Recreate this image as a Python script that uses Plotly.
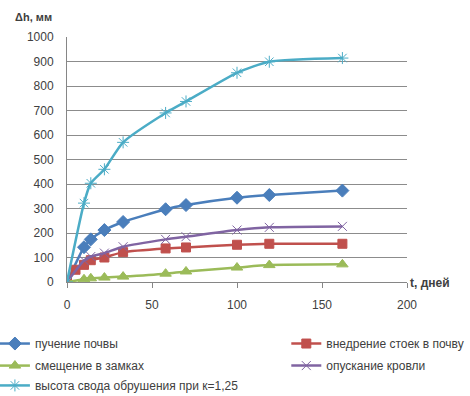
import plotly.graph_objects as go

# data
t_common = [0, 10, 14, 22, 33, 58, 70, 100, 119, 162]
t_red = [0, 5, 10, 14, 22, 33, 58, 70, 100, 119, 162]

puchenie = [0, 142, 174, 212, 245, 297, 314, 344, 355, 373]
vnedrenie = [0, 50, 70, 89, 100, 122, 137, 141, 152, 156, 156]
smeshchenie = [0, 11, 15, 18, 22, 34, 43, 59, 69, 72]
opuskanie = [0, 88, 104, 118, 144, 174, 185, 212, 223, 227]
vysota = [0, 322, 403, 460, 570, 690, 737, 854, 899, 914]

names = ["пучение почвы", "внедрение стоек в почву", "смещение в замках",
         "опускание кровли", "высота свода обрушения при к=1,25"]

x_ticks = [0, 50, 100, 150, 200]
y_ticks = [0, 100, 200, 300, 400, 500, 600, 700, 800, 900, 1000]

FONT = "Liberation Sans"
TXT = "#404040"

fig = go.Figure()

def add(x, y, name, color, symbol, size, legend, lw=2.5):
    fig.add_trace(go.Scatter(
        x=x, y=y, name=name, mode="lines+markers",
        line=dict(color=color, width=lw, shape="spline", smoothing=0.6),
        marker=dict(symbol=symbol, size=size, color=color,
                    line=dict(color=color, width=1)),
        legend=legend))

add(t_common, puchenie, names[0], "#4A7EBB", "diamond", 10, "legend")
add(t_red, vnedrenie, names[1], "#C0504D", "square", 9, "legend2")
add(t_common, smeshchenie, names[2], "#9BBB59", "triangle-up", 10, "legend3")
add(t_common, opuskanie, names[3], "#8064A2", "x-thin-open", 9, "legend4")
add(t_common, vysota, names[4], "#4BACC6", "asterisk-open", 10, "legend5")

def leg(x, y):
    return dict(x=x, y=y, font=dict(family=FONT, size=12, color=TXT),
                orientation="v", yanchor="top", xanchor="left",
                bgcolor="rgba(0,0,0,0)")

XL, XR = -0.212, 0.645
Y1, Y2, Y3 = -0.192, -0.282, -0.363

fig.update_layout(
    width=470, height=396,
    margin=dict(l=67, r=63, t=37, b=114, autoexpand=False),
    plot_bgcolor="white", paper_bgcolor="white",
    font=dict(family=FONT, size=12, color=TXT),
    showlegend=True,
    legend=leg(XL, Y1),
    legend2=leg(XR, Y1),
    legend3=leg(XL, Y2),
    legend4=leg(XR, Y2),
    legend5=leg(XL, Y3),
    xaxis=dict(range=[0, 200], tickvals=x_ticks, showgrid=False,
               showline=True, linecolor="#868686", linewidth=1,
               ticks="outside", ticklen=5, tickcolor="#868686",
               ticklabelstandoff=7,
               zeroline=False, tickfont=dict(family=FONT, size=12, color=TXT)),
    yaxis=dict(range=[0, 1000], tickvals=y_ticks, showgrid=True,
               gridcolor="#8c8c8c", gridwidth=1,
               showline=True, linecolor="#868686", linewidth=1,
               ticks="", zeroline=False, ticklabelstandoff=10,
               tickfont=dict(family=FONT, size=12, color=TXT)),
    annotations=[
        dict(text="<b>Δh, мм</b>", xref="paper", yref="paper",
             x=-0.158, y=1.08, xanchor="left", yanchor="middle",
             showarrow=False, font=dict(family=FONT, size=11, color=TXT)),
        dict(text="<b>t, дней</b>", xref="paper", yref="paper",
             x=1.0, y=0.0, xanchor="left", yanchor="middle", xshift=1, yshift=-1,
             showarrow=False, font=dict(family=FONT, size=12, color=TXT)),
    ],
)

fig.write_html("out.html", config={"displayModeBar": False},
               post_script="document.body.style.margin='0';document.body.style.padding='0';")
